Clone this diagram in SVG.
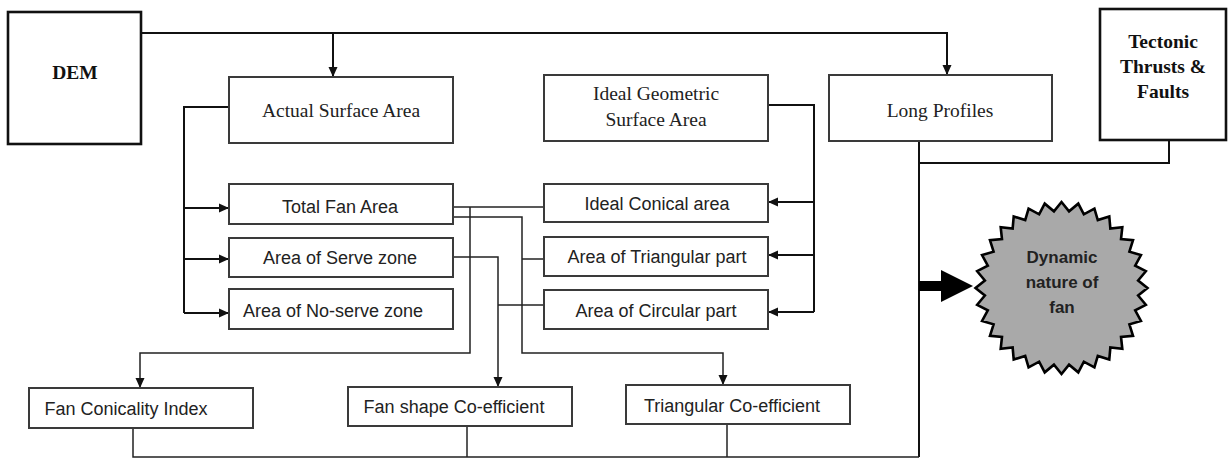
<svg xmlns="http://www.w3.org/2000/svg" width="1229" height="458" viewBox="0 0 1229 458">
<style>
.box{fill:#fff;stroke:#3a3a3a;stroke-width:2}
.hbox{fill:#fff;stroke:#111;stroke-width:2.6}
.ser{font-family:"Liberation Serif",serif;font-size:19.5px;fill:#222;text-anchor:middle}
.serb{font-family:"Liberation Serif",serif;font-size:19.5px;font-weight:bold;fill:#111;text-anchor:middle}
.san{font-family:"Liberation Sans",Arial,sans-serif;font-size:18px;fill:#222;text-anchor:middle}
.star{font-family:"Liberation Sans",Arial,sans-serif;font-size:17px;font-weight:bold;fill:#222;text-anchor:middle}
.c{fill:none;stroke:#111;stroke-width:2}
.t{fill:none;stroke:#222;stroke-width:1.5}
</style>
<defs>
<marker id="ah" markerUnits="userSpaceOnUse" markerWidth="10" markerHeight="10" refX="10" refY="5" orient="auto" viewBox="0 0 10 10">
<path d="M0,0.5 L10,5 L0,9.5 z" fill="#111"/>
</marker>
</defs>
<g id="connectors">
<path class="c" d="M141,33 H947 V75" marker-end="url(#ah)"/>
<path class="c" d="M333,33 V77" marker-end="url(#ah)"/>
<path class="c" d="M229,107 H184 V313"/>
<path class="c" d="M184,208 H229" marker-end="url(#ah)"/>
<path class="c" d="M184,259 H229" marker-end="url(#ah)"/>
<path class="c" d="M184,313 H229" marker-end="url(#ah)"/>
<path class="c" d="M768,105 H814 V312"/>
<path class="c" d="M814,202 H768" marker-end="url(#ah)"/>
<path class="c" d="M814,255 H768" marker-end="url(#ah)"/>
<path class="c" d="M814,312 H768" marker-end="url(#ah)"/>
<path class="c" d="M919,141 V457"/>
<path class="c" d="M919,163 H1169 V140"/>
<path class="t" d="M133,428 V457 H919"/>
<path class="t" d="M467,426 V457"/>
<path class="t" d="M727,424 V457"/>
<path class="t" d="M453,207 H544"/>
<path class="t" d="M453,217 H522 V353 H723 V385" marker-end="url(#ah)"/>
<path class="t" d="M522,259 H544"/>
<path class="t" d="M470,207 V353 H140 V388" marker-end="url(#ah)"/>
<path class="t" d="M453,257 H498 V387" marker-end="url(#ah)"/>
<path class="t" d="M498,305 H544"/>
<polygon points="919,281 941,281 941,270 973,286 941,302 941,291 919,291" fill="#000"/>
</g>
<g id="dem"><rect class="hbox" x="8" y="12" width="133" height="132"/><text class="serb" x="75" y="79">DEM</text></g>
<g id="actual-surface-area"><rect class="box" x="229" y="77" width="224" height="66"/><text class="ser" x="341" y="117">Actual Surface Area</text></g>
<g id="ideal-geometric-surface-area"><rect class="box" x="544" y="75" width="224" height="66"/><text class="ser" x="656" y="100">Ideal Geometric</text><text class="ser" x="656" y="126">Surface Area</text></g>
<g id="long-profiles"><rect class="box" x="829" y="75" width="223" height="66"/><text class="ser" x="940" y="117">Long Profiles</text></g>
<g id="tectonic"><rect class="hbox" x="1100" y="9" width="126" height="131"/><text class="serb" x="1163" y="48">Tectonic</text><text class="serb" x="1163" y="73">Thrusts &amp;</text><text class="serb" x="1163" y="98">Faults</text></g>
<g id="total-fan-area"><rect class="box" x="229" y="184" width="224" height="40"/><text class="san" x="340" y="213">Total Fan Area</text></g>
<g id="area-serve-zone"><rect class="box" x="229" y="238" width="224" height="39"/><text class="san" x="340" y="264">Area of Serve zone</text></g>
<g id="area-no-serve-zone"><rect class="box" x="229" y="289" width="224" height="40"/><text class="san" x="333" y="317">Area of No-serve zone</text></g>
<g id="ideal-conical-area"><rect class="box" x="544" y="184" width="224" height="38"/><text class="san" x="657" y="210">Ideal Conical area</text></g>
<g id="area-triangular-part"><rect class="box" x="544" y="237" width="224" height="39"/><text class="san" x="657" y="263">Area of Triangular part</text></g>
<g id="area-circular-part"><rect class="box" x="544" y="290" width="224" height="39"/><text class="san" x="656" y="317">Area of Circular part</text></g>
<g id="fan-conicality-index"><rect class="box" x="29" y="388" width="224" height="40"/><text class="san" x="126" y="415">Fan Conicality Index</text></g>
<g id="fan-shape-coefficient"><rect class="box" x="348" y="387" width="224" height="39"/><text class="san" x="454" y="413">Fan shape Co-efficient</text></g>
<g id="triangular-coefficient"><rect class="box" x="626" y="385" width="224" height="39"/><text class="san" x="732" y="412">Triangular Co-efficient</text></g>
<g id="dynamic-nature"><polygon transform="translate(1061.5,288)" fill="#a9a9a9" stroke="#000" stroke-width="2.6" stroke-linejoin="miter" points="86,0 76.63,7.55 84.35,16.78 73.68,22.35 79.45,32.91 67.91,36.30 71.51,47.78 59.52,48.85 60.81,60.81 48.85,59.52 47.78,71.51 36.30,67.91 32.91,79.45 22.35,73.68 16.78,84.35 7.55,76.63 0,86 -7.55,76.63 -16.78,84.35 -22.35,73.68 -32.91,79.45 -36.30,67.91 -47.78,71.51 -48.85,59.52 -60.81,60.81 -59.52,48.85 -71.51,47.78 -67.91,36.30 -79.45,32.91 -73.68,22.35 -84.35,16.78 -76.63,7.55 -86,0 -76.63,-7.55 -84.35,-16.78 -73.68,-22.35 -79.45,-32.91 -67.91,-36.30 -71.51,-47.78 -59.52,-48.85 -60.81,-60.81 -48.85,-59.52 -47.78,-71.51 -36.30,-67.91 -32.91,-79.45 -22.35,-73.68 -16.78,-84.35 -7.55,-76.63 0,-86 7.55,-76.63 16.78,-84.35 22.35,-73.68 32.91,-79.45 36.30,-67.91 47.78,-71.51 48.85,-59.52 60.81,-60.81 59.52,-48.85 71.51,-47.78 67.91,-36.30 79.45,-32.91 73.68,-22.35 84.35,-16.78 76.63,-7.55"/><text class="star" x="1062" y="263">Dynamic</text><text class="star" x="1062" y="288">nature of</text><text class="star" x="1062" y="313">fan</text></g>
</svg>
